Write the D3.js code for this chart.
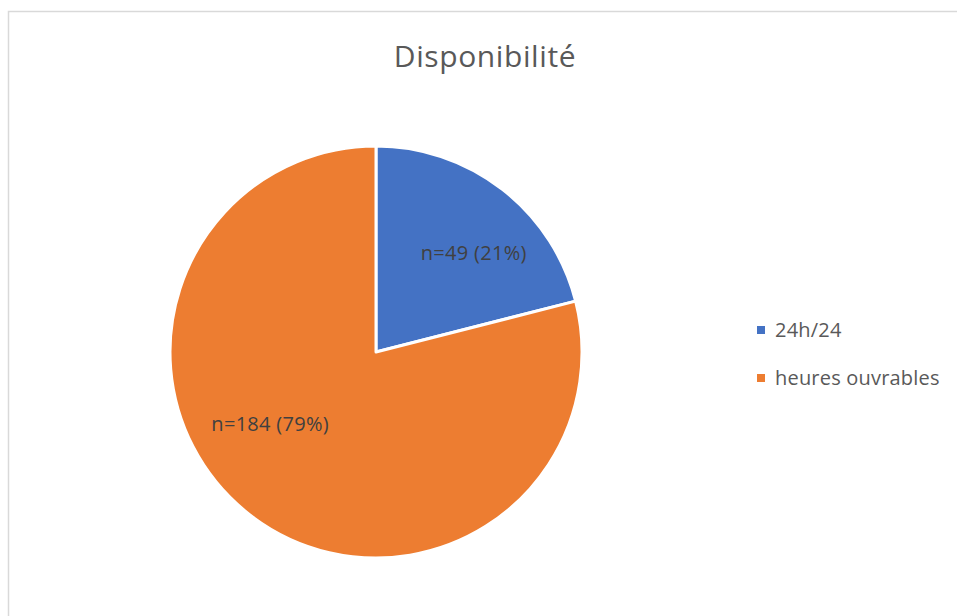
<!DOCTYPE html>
<html><head><meta charset="utf-8">
<script src="https://cdn.jsdelivr.net/npm/d3@7"></script>
<style>body{margin:0;background:#fff}svg{display:block}text{font-family:"Open Sans",sans-serif}</style>
</head><body><svg id="c" width="957" height="616"></svg>
<script>
const title = "Disponibilité";
const categories = ["24h/24", "heures ouvrables"];
const counts = [49, 184];
const percents = ["21%", "79%"];
const colors = ["#4472C4", "#ED7D31"];

const svg = d3.select("#c");
// chart border
svg.append("path").attr("d","M8.5,616 V11.5 H957").attr("fill","none").attr("stroke","#d9d9d9").attr("stroke-width",1.5);

svg.append("text").attr("x",485).attr("y",67).attr("text-anchor","middle")
  .attr("font-size",30).attr("letter-spacing",0.6).attr("fill","#595959").text(title);

const cx=376, cy=352, R=206;
const data = categories.map((c,i)=>({cat:c,n:counts[i],p:percents[i],color:colors[i]}));
const pie = d3.pie().value(d=>d.n).sort(null);
const arcs = pie(data);
const arc = d3.arc().innerRadius(0).outerRadius(R);
const g = svg.append("g").attr("transform",`translate(${cx},${cy})`);
g.selectAll("path").data(arcs).join("path").attr("d",arc)
  .attr("fill",d=>d.data.color).attr("stroke","#fff").attr("stroke-width",3).attr("stroke-linejoin","round");

// label placement (polar, relative to slice): fraction of slice angle, radius
const labelFrac = [0.59, 0.563], labelRad = [139, 128];
g.selectAll("text.lbl").data(arcs).join("text").attr("class","lbl")
  .each(function(d,i){
    const a = d.startAngle + (d.endAngle-d.startAngle)*labelFrac[i];
    const [x,y] = d3.pointRadial(a, labelRad[i]);
    d3.select(this).attr("x",x).attr("y",y+7);
  })
  .attr("text-anchor","middle").attr("font-size",20).attr("letter-spacing",0.3).attr("fill","#404040")
  .text(d=>`n=${d.data.n} (${d.data.p})`);

const lg = svg.append("g");
data.forEach((d,i)=>{
  const y = 330 + i*48;
  lg.append("rect").attr("x",757).attr("y",y-4).attr("width",8).attr("height",8).attr("fill",d.color);
  lg.append("text").attr("x",775).attr("y",y+7).attr("font-size",20).attr("letter-spacing",0.2).attr("fill","#595959").text(d.cat);
});
</script></body></html>
